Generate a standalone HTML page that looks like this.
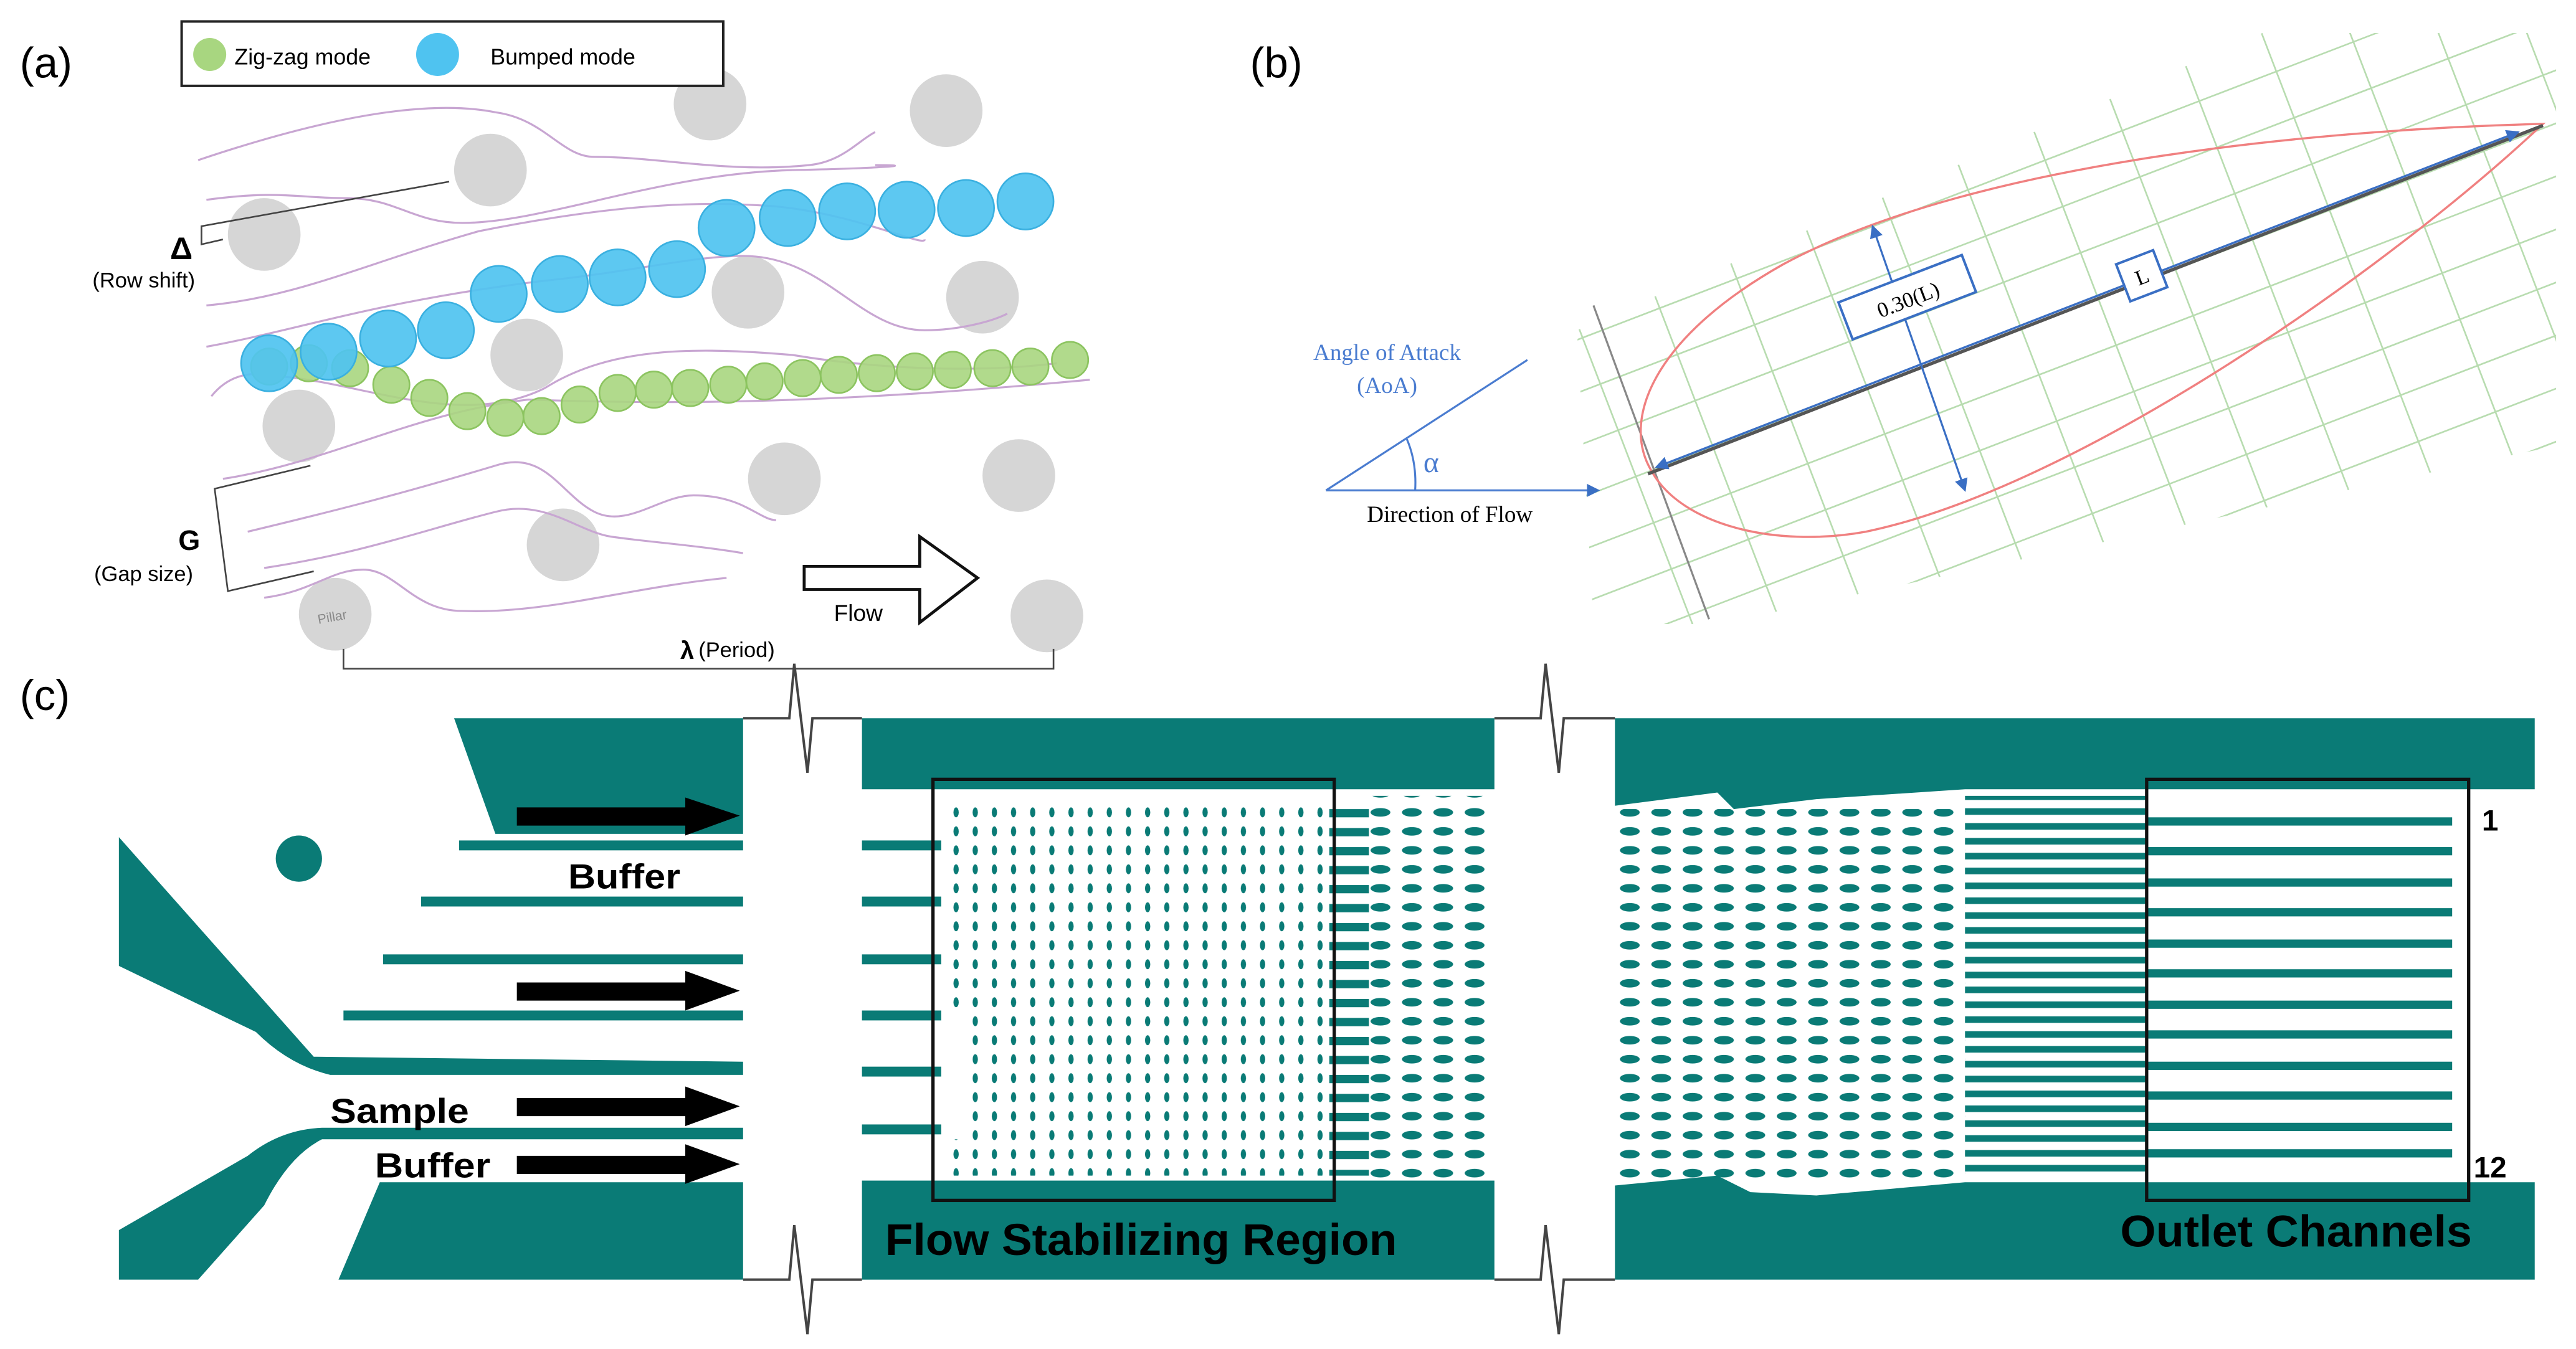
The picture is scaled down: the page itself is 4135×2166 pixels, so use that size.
<!DOCTYPE html>
<html><head><meta charset="utf-8"><style>html,body{margin:0;padding:0;background:#fff}svg{display:block}</style></head>
<body>
<svg width="4135" height="2166" viewBox="0 0 1560 817" preserveAspectRatio="none" xmlns="http://www.w3.org/2000/svg" font-family="Liberation Sans, sans-serif">
<defs>
<pattern id="dots" x="575" y="487" width="11.6" height="11.5" patternUnits="userSpaceOnUse"><ellipse cx="4" cy="5" rx="1.6" ry="3" fill="#0a7b76"/></pattern>
<pattern id="dash" x="828" y="487" width="19" height="11.5" patternUnits="userSpaceOnUse"><ellipse cx="8" cy="5" rx="6" ry="2.6" fill="#0a7b76"/></pattern>
<pattern id="dash2" x="978" y="487" width="19" height="11.5" patternUnits="userSpaceOnUse"><ellipse cx="9" cy="5" rx="6" ry="2.6" fill="#0a7b76"/></pattern>
<pattern id="bars" x="805" y="487" width="25" height="11.5" patternUnits="userSpaceOnUse"><rect x="0" y="3" width="25" height="5" fill="#0a7b76"/></pattern>
<pattern id="bars2" x="1190" y="487" width="110" height="9" patternUnits="userSpaceOnUse"><rect x="0" y="2.5" width="110" height="4" fill="#0a7b76"/></pattern>
<clipPath id="gc"><polygon points="955,200 1370,20 1548,20 1548,270 1040,378 965,378"/></clipPath>
<marker id="ab" markerWidth="8" markerHeight="8" refX="7" refY="4" orient="auto" markerUnits="userSpaceOnUse"><path d="M0,0 L8,4 L0,8 Z" fill="#3a6fc4"/></marker>
<marker id="ab2" markerWidth="8" markerHeight="8" refX="1" refY="4" orient="auto" markerUnits="userSpaceOnUse"><path d="M8,0 L0,4 L8,8 Z" fill="#3a6fc4"/></marker>
</defs>

<!-- (a) -->
<text x="12" y="47" font-size="26">(a)</text>
<g fill="#d6d6d6">
<circle cx="430" cy="63" r="22"/><circle cx="573" cy="67" r="22"/><circle cx="297" cy="103" r="22"/><circle cx="160" cy="142" r="22"/>
<circle cx="453" cy="177" r="22"/><circle cx="595" cy="180" r="22"/><circle cx="319" cy="215" r="22"/><circle cx="181" cy="258" r="22"/>
<circle cx="475" cy="290" r="22"/><circle cx="617" cy="288" r="22"/><circle cx="341" cy="330" r="22"/><circle cx="203" cy="372" r="22"/><circle cx="634" cy="373" r="22"/>
</g>
<text x="192" y="376" font-size="8" fill="#888" transform="rotate(-10 203 372)">Pillar</text>
<rect x="110" y="13" width="328" height="39" fill="#fff" stroke="#222" stroke-width="1.5"/>
<circle cx="127" cy="33" r="10" fill="#a8d680"/><text x="142" y="39" font-size="13.5">Zig-zag mode</text>
<circle cx="265" cy="33" r="13" fill="#4fc3f0"/><text x="297" y="39" font-size="13.5">Bumped mode</text>
<g fill="none" stroke="#c8a6d2" stroke-width="1.2">
<path d="M120,97 C200,70 260,60 300,68 C330,72 340,95 360,95 C400,95 440,105 490,100 C510,98 520,85 530,80"/>
<path d="M125,121 C170,115 180,120 210,120 C240,120 250,135 280,135 C330,135 400,105 480,103 C530,102 560,100 530,100"/>
<path d="M125,185 C180,180 220,160 290,140 C380,122 430,122 470,125 C520,130 560,150 560,145"/>
<path d="M125,210 C180,200 230,182 330,170 C380,165 420,155 450,155 C500,155 520,200 560,200 C580,200 600,195 610,190"/>
<path d="M128,240 C140,225 155,225 170,228 C220,232 280,260 330,235 C370,210 420,210 480,215 C540,225 600,225 640,220"/>
<path d="M135,290 C200,280 250,250 320,242 C400,245 500,245 660,230"/>
<path d="M150,322 C200,310 240,300 300,282 C330,272 340,300 360,310 C380,320 400,300 420,300 C450,300 460,315 470,315"/>
<path d="M160,344 C220,335 260,320 300,310 C330,302 350,322 370,325 C390,328 420,330 450,335"/>
<path d="M160,362 C190,358 200,345 220,345 C240,345 250,370 280,370 C330,372 380,356 440,350"/>
</g>
<g fill="#a8d680" fill-opacity="0.9" stroke="#8cc460" stroke-width="1">
<circle cx="163" cy="222" r="11"/><circle cx="187" cy="220" r="11"/><circle cx="212" cy="223" r="11"/><circle cx="237" cy="233" r="11"/><circle cx="260" cy="241" r="11"/><circle cx="283" cy="249" r="11"/><circle cx="306" cy="253" r="11"/><circle cx="328" cy="252" r="11"/><circle cx="351" cy="245" r="11"/><circle cx="374" cy="238" r="11"/><circle cx="396" cy="236" r="11"/><circle cx="418" cy="235" r="11"/><circle cx="441" cy="233" r="11"/><circle cx="463" cy="231" r="11"/><circle cx="486" cy="229" r="11"/><circle cx="508" cy="227" r="11"/><circle cx="531" cy="226" r="11"/><circle cx="554" cy="225" r="11"/><circle cx="577" cy="224" r="11"/><circle cx="601" cy="223" r="11"/><circle cx="624" cy="222" r="11"/><circle cx="648" cy="218" r="11"/>
</g>
<g fill="#4fc3f0" fill-opacity="0.92" stroke="#3ab0e0" stroke-width="1">
<circle cx="163" cy="220" r="17"/><circle cx="199" cy="213" r="17"/><circle cx="235" cy="205" r="17"/><circle cx="270" cy="200" r="17"/><circle cx="302" cy="178" r="17"/><circle cx="339" cy="172" r="17"/><circle cx="374" cy="168" r="17"/><circle cx="410" cy="163" r="17"/><circle cx="440" cy="138" r="17"/><circle cx="477" cy="132" r="17"/><circle cx="513" cy="128" r="17"/><circle cx="549" cy="127" r="17"/><circle cx="585" cy="126" r="17"/><circle cx="621" cy="122" r="17"/>
</g>
<g fill="none" stroke="#444" stroke-width="1">
<path d="M272,110 L122,137 L122,148 L135,145"/>
<path d="M188,282 L130,296 L138,358 L190,346"/>
<path d="M208,393 L208,405 L638,405 L638,393"/>
</g>
<text x="103" y="157" font-size="19" font-weight="bold">Δ</text>
<text x="56" y="174" font-size="13">(Row shift)</text>
<text x="108" y="333" font-size="17" font-weight="bold">G</text>
<text x="57" y="352" font-size="13">(Gap size)</text>
<text x="412" y="399" font-size="15" font-weight="bold">λ</text><text x="423" y="398" font-size="13">(Period)</text>
<path d="M487,343 L557,343 L557,325 L592,350 L557,377 L557,357 L487,357 Z" fill="#fff" stroke="#111" stroke-width="1.8"/>
<text x="505" y="376" font-size="14">Flow</text>

<!-- (b) -->
<text x="757" y="47" font-size="26">(b)</text>
<g clip-path="url(#gc)" stroke="#b8dcb0" stroke-width="1">
<g transform="rotate(-21 1000 285)">
<line x1="800" y1="45" x2="1800" y2="45"/><line x1="800" y1="75" x2="1800" y2="75"/><line x1="800" y1="105" x2="1800" y2="105"/><line x1="800" y1="135" x2="1800" y2="135"/><line x1="800" y1="165" x2="1800" y2="165"/><line x1="800" y1="195" x2="1800" y2="195"/><line x1="800" y1="225" x2="1800" y2="225"/><line x1="800" y1="255" x2="1800" y2="255"/><line x1="800" y1="285" x2="1800" y2="285"/><line x1="800" y1="315" x2="1800" y2="315"/><line x1="800" y1="345" x2="1800" y2="345"/><line x1="800" y1="375" x2="1800" y2="375"/><line x1="800" y1="405" x2="1800" y2="405"/><line x1="800" y1="435" x2="1800" y2="435"/><line x1="800" y1="465" x2="1800" y2="465"/><line x1="800" y1="495" x2="1800" y2="495"/>
<line x1="1040" y1="-100" x2="1040" y2="700"/><line x1="1090" y1="-100" x2="1090" y2="700"/><line x1="1140" y1="-100" x2="1140" y2="700"/><line x1="1190" y1="-100" x2="1190" y2="700"/><line x1="1240" y1="-100" x2="1240" y2="700"/><line x1="1290" y1="-100" x2="1290" y2="700"/><line x1="1340" y1="-100" x2="1340" y2="700"/><line x1="1390" y1="-100" x2="1390" y2="700"/><line x1="1440" y1="-100" x2="1440" y2="700"/><line x1="1490" y1="-100" x2="1490" y2="700"/><line x1="1540" y1="-100" x2="1540" y2="700"/><line x1="1590" y1="-100" x2="1590" y2="700"/><line x1="1640" y1="-100" x2="1640" y2="700"/><line x1="990" y1="-100" x2="990" y2="700"/>
</g>
</g>
<line x1="965" y1="185" x2="1035" y2="375" stroke="#888" stroke-width="1.2"/>
<path d="M1540,75 C1420,78 1200,95 1080,160 C1000,205 982,255 1000,285 C1018,318 1075,332 1130,322 C1260,295 1450,160 1540,75 Z" fill="none" stroke="#f08080" stroke-width="1.3"/>
<line x1="998" y1="287" x2="1540" y2="76" stroke="#555" stroke-width="2"/>
<line x1="1003" y1="283" x2="1525" y2="80" stroke="#3a6fc4" stroke-width="1.3" marker-end="url(#ab)" marker-start="url(#ab2)"/>
<line x1="1134" y1="137" x2="1190" y2="297" stroke="#3a6fc4" stroke-width="1.2" marker-end="url(#ab)" marker-start="url(#ab2)"/>
<g transform="rotate(-21 1155 180)"><rect x="1115" y="168" width="80" height="24" fill="#fff" stroke="#3a6fc4" stroke-width="1.5"/><text x="1155" y="186" font-size="13" text-anchor="middle" font-family="Liberation Serif, serif">0.30(L)</text></g>
<g transform="rotate(-21 1297 167)"><rect x="1285" y="155" width="24" height="24" fill="#fff" stroke="#3a6fc4" stroke-width="1.5"/><text x="1297" y="172" font-size="13" text-anchor="middle" font-family="Liberation Serif, serif">L</text></g>
<text x="840" y="218" font-size="14" fill="#4a7cd0" text-anchor="middle" font-family="Liberation Serif, serif">Angle of Attack</text>
<text x="840" y="238" font-size="14" fill="#4a7cd0" text-anchor="middle" font-family="Liberation Serif, serif">(AoA)</text>
<line x1="803" y1="297" x2="925" y2="218" stroke="#4a7cd0" stroke-width="1.2"/>
<line x1="803" y1="297" x2="968" y2="297" stroke="#4a7cd0" stroke-width="1.2" marker-end="url(#ab)"/>
<path d="M852,266 Q858,280 857,297" fill="none" stroke="#4a7cd0" stroke-width="1.2"/>
<text x="862" y="286" font-size="18" fill="#4a7cd0" font-family="Liberation Serif, serif">α</text>
<text x="878" y="316" font-size="14" text-anchor="middle" font-family="Liberation Serif, serif">Direction of Flow</text>

<!-- (c) -->
<text x="12" y="430" font-size="26">(c)</text>
<g fill="#0a7b76">
<polygon points="275,435 450,435 450,505 300,505"/>
<rect x="522" y="435" width="383" height="43"/>
<path d="M978,435 L1535,435 L1535,478 L1190,478 L1100,484 L1050,490 L1040,480 L978,488 Z"/>
<polygon points="230,716 450,716 450,775 205,775"/>
<rect x="522" y="715" width="383" height="60"/>
<path d="M978,718 L1040,712 L1060,722 L1100,724 L1190,716 L1535,716 L1535,775 L978,775 Z"/>
<path d="M72,507 L190,640 L450,643 L450,651 L200,651 Q175,645 155,625 L72,585 Z"/>
<path d="M450,683 L450,690 L195,690 Q175,700 160,730 L120,775 L72,775 L72,745 L150,700 Q170,684 195,683 Z"/>
<circle cx="181" cy="520" r="14"/>
<rect x="278" y="509" width="172" height="6"/><rect x="255" y="543" width="195" height="6"/><rect x="232" y="578" width="218" height="6"/><rect x="208" y="612" width="242" height="6"/>
<rect x="522" y="509" width="48" height="6"/><rect x="522" y="543" width="48" height="6"/><rect x="522" y="578" width="48" height="6"/><rect x="522" y="612" width="48" height="6"/><rect x="522" y="646" width="48" height="6"/><rect x="522" y="681" width="48" height="6"/>
</g>
<rect x="575" y="487" width="232" height="225" fill="url(#dots)"/>
<rect x="575" y="615" width="14" height="75" fill="#fff"/>
<rect x="805" y="487" width="24" height="225" fill="url(#bars)"/>
<rect x="829" y="482" width="76" height="232" fill="url(#dash)"/>
<rect x="978" y="490" width="212" height="225" fill="url(#dash2)"/>
<rect x="1190" y="482" width="110" height="232" fill="url(#bars2)"/>
<g fill="#0a7b76">
<rect x="1300" y="495" width="185" height="5"/><rect x="1300" y="513" width="185" height="5"/><rect x="1300" y="532" width="185" height="5"/><rect x="1300" y="550" width="185" height="5"/><rect x="1300" y="569" width="185" height="5"/><rect x="1300" y="587" width="185" height="5"/><rect x="1300" y="606" width="185" height="5"/><rect x="1300" y="624" width="185" height="5"/><rect x="1300" y="643" width="185" height="5"/><rect x="1300" y="661" width="185" height="5"/><rect x="1300" y="680" width="185" height="5"/><rect x="1300" y="696" width="185" height="5"/>
</g>
<g fill="none" stroke="#444" stroke-width="1.5">
<path d="M450,435 L478,435 L481,402 L489,468 L492,435 L522,435"/>
<path d="M450,775 L478,775 L481,742 L489,808 L492,775 L522,775"/>
<path d="M905,435 L933,435 L936,402 L944,468 L947,435 L978,435"/>
<path d="M905,775 L933,775 L936,742 L944,808 L947,775 L978,775"/>
</g>
<rect x="565" y="472" width="243" height="255" fill="none" stroke="#111" stroke-width="2"/>
<rect x="1300" y="472" width="195" height="255" fill="none" stroke="#111" stroke-width="2"/>
<g fill="#000">
<path d="M313,489 L415,489 L415,483 L448,494 L415,506 L415,500 L313,500 Z"/>
<path d="M313,595 L415,595 L415,588 L448,600 L415,612 L415,606 L313,606 Z"/>
<path d="M313,665 L415,665 L415,658 L448,670 L415,682 L415,676 L313,676 Z"/>
<path d="M313,700 L415,700 L415,693 L448,705 L415,717 L415,711 L313,711 Z"/>
</g>
<g font-weight="bold" font-size="21">
<text x="344" y="538" textLength="68" lengthAdjust="spacingAndGlyphs">Buffer</text>
<text x="200" y="680" textLength="84" lengthAdjust="spacingAndGlyphs">Sample</text>
<text x="227" y="713" textLength="70" lengthAdjust="spacingAndGlyphs">Buffer</text>
<text x="536" y="760" font-size="27" textLength="310" lengthAdjust="spacingAndGlyphs">Flow Stabilizing Region</text>
<text x="1284" y="755" font-size="27" textLength="213" lengthAdjust="spacingAndGlyphs">Outlet Channels</text>
<text x="1503" y="503" font-size="18">1</text>
<text x="1498" y="713" font-size="18">12</text>
</g>
</svg>
</body></html>
